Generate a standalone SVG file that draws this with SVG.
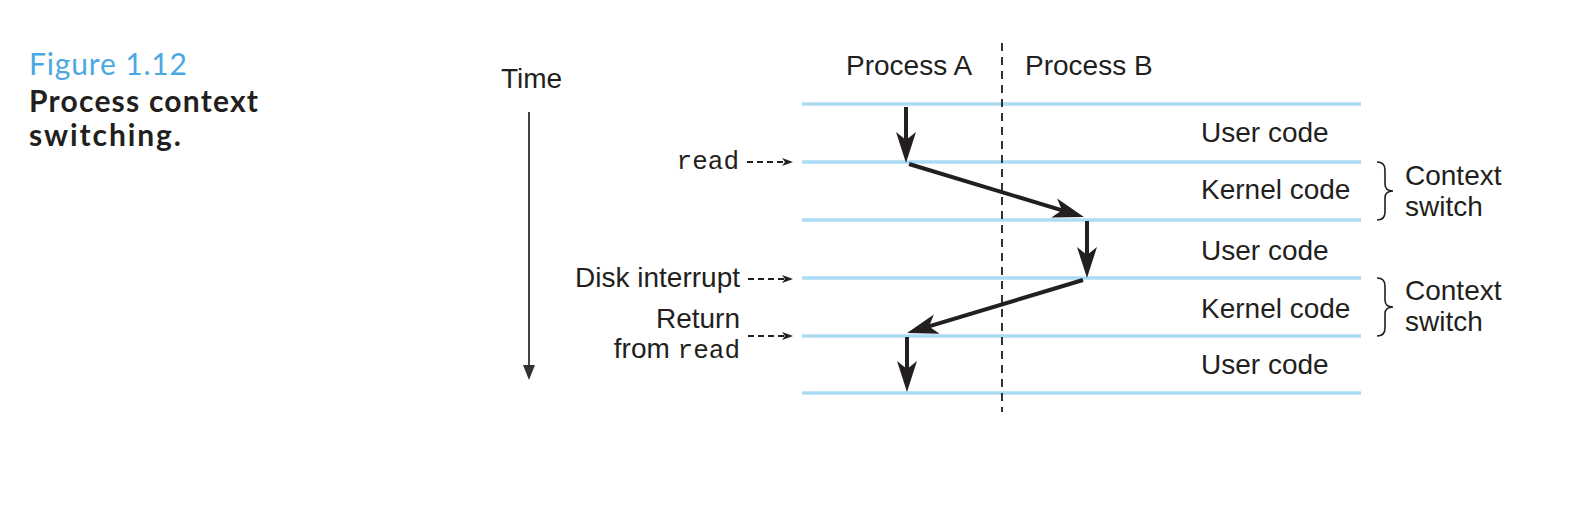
<svg xmlns="http://www.w3.org/2000/svg" width="1582" height="516" viewBox="0 0 1582 516">
<style>
.lbl{font-family:"Liberation Sans",Arial,sans-serif;font-size:28px;fill:#231f20}
.mono{font-family:"Liberation Mono","Courier New",monospace;font-size:26px;fill:#231f20}
.cap{font-family:Lato,"Open Sans",sans-serif;font-size:30px}
.band{stroke:#abdcf3;stroke-width:3.5;fill:none}
.flow{stroke:#231f20;stroke-width:4;fill:none;marker-end:url(#bigHead)}
.ptr{stroke:#231f20;stroke-width:1.8;fill:none;stroke-dasharray:6 4;marker-end:url(#smallHead)}
.brace{stroke:#231f20;stroke-width:1.6;fill:none}
</style>
<defs>
<marker id="bigHead" markerUnits="userSpaceOnUse" viewBox="-32 -12 34 24" refX="-15" refY="0" markerWidth="34" markerHeight="24" orient="auto" overflow="visible">
<path d="M0,0 L-31,-10 L-23,0 L-31,10 Z" fill="#231f20"/>
</marker>
<marker id="smallHead" markerUnits="userSpaceOnUse" viewBox="-12 -5 13 10" refX="-4" refY="0" markerWidth="13" markerHeight="10" orient="auto" overflow="visible">
<path d="M0,0 L-11,-4 L-8,0 L-11,4 Z" fill="#231f20"/>
</marker>
</defs>

<g id="caption">
<text class="cap" x="29" y="75" fill="#4ba8e2" textLength="158" lengthAdjust="spacing">Figure 1.12</text>
<text class="cap" x="29" y="112" fill="#231f20" font-weight="bold" textLength="229" lengthAdjust="spacing">Process context</text>
<text class="cap" x="29" y="146" fill="#231f20" font-weight="bold" textLength="152" lengthAdjust="spacing">switching.</text>
</g>

<g id="time-axis">
<text class="lbl" x="501" y="88">Time</text>
<line x1="529" y1="112" x2="529" y2="367" stroke="#444" stroke-width="2"/>
<path d="M523,365 L535,365 L529,380 Z" fill="#333"/>
</g>

<g id="bands">
<line class="band" x1="802" y1="104" x2="1361" y2="104"/>
<line class="band" x1="802" y1="162" x2="1361" y2="162"/>
<line class="band" x1="802" y1="220" x2="1361" y2="220"/>
<line class="band" x1="802" y1="278" x2="1361" y2="278"/>
<line class="band" x1="802" y1="336" x2="1361" y2="336"/>
<line class="band" x1="802" y1="393" x2="1361" y2="393"/>
</g>

<g id="divider">
<line x1="1002" y1="43" x2="1002" y2="412" stroke="#333" stroke-width="2" stroke-dasharray="8 6"/>
</g>

<g id="process-a"><text class="lbl" x="846" y="75">Process A</text></g>
<g id="process-b"><text class="lbl" x="1025" y="75">Process B</text></g>

<g id="segments">
<text class="lbl" x="1201" y="142">User code</text>
<text class="lbl" x="1201" y="199">Kernel code</text>
<text class="lbl" x="1201" y="260">User code</text>
<text class="lbl" x="1201" y="318">Kernel code</text>
<text class="lbl" x="1201" y="374">User code</text>
</g>

<g id="context-switch-1">
<path class="brace" d="M1377,162 Q1385,162 1385,170 L1385,184 Q1385,191 1393,191 Q1385,191 1385,198 L1385,212 Q1385,220 1377,220"/>
<text class="lbl" x="1405" y="185">Context</text>
<text class="lbl" x="1405" y="216">switch</text>
</g>
<g id="context-switch-2">
<path class="brace" d="M1377,278 Q1385,278 1385,286 L1385,300 Q1385,307 1393,307 Q1385,307 1385,314 L1385,328 Q1385,336 1377,336"/>
<text class="lbl" x="1405" y="300">Context</text>
<text class="lbl" x="1405" y="331">switch</text>
</g>

<g id="events">
<text class="mono" x="739" y="169" text-anchor="end">read</text>
<text class="lbl" x="740" y="287" text-anchor="end">Disk interrupt</text>
<text class="lbl" x="740" y="328" text-anchor="end">Return</text>
<text class="lbl" x="740" y="358" text-anchor="end">from <tspan class="mono">read</tspan></text>
</g>

<g id="connectors">
<line class="ptr" x1="747" y1="162" x2="789" y2="162"/>
<line class="ptr" x1="748" y1="279" x2="789" y2="279"/>
<line class="ptr" x1="748" y1="336" x2="789" y2="336"/>
<line class="flow" x1="906" y1="107" x2="906" y2="148"/>
<line class="flow" x1="909" y1="164" x2="1069.6" y2="212.6"/>
<line class="flow" x1="1087" y1="221" x2="1087" y2="263"/>
<line class="flow" x1="1083" y1="280" x2="921.4" y2="328.7"/>
<line class="flow" x1="907" y1="337" x2="907" y2="377"/>
</g>
</svg>
